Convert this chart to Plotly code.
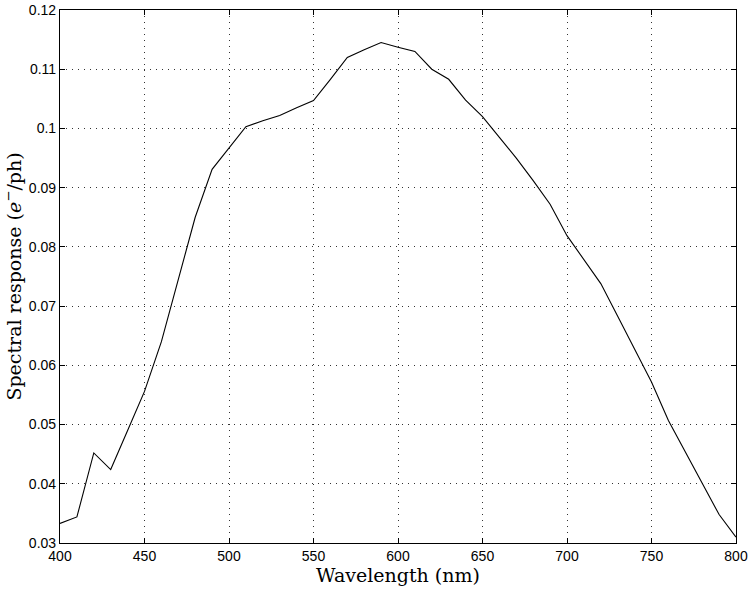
import plotly.graph_objects as go

wavelength_nm = [400, 410, 420, 430, 440, 450, 460, 470, 480, 490,
                 500, 510, 520, 530, 540, 550, 560, 570, 580, 590,
                 600, 610, 620, 630, 640, 650, 660, 670, 680, 690,
                 700, 710, 720, 730, 740, 750, 760, 770, 780, 790, 800]
response = [0.0333, 0.0344, 0.0452, 0.0424, 0.0490, 0.0556, 0.0640, 0.0744, 0.0850, 0.0931,
            0.0967, 0.1003, 0.1013, 0.1022, 0.1035, 0.1047, 0.1083, 0.1120, 0.1133, 0.1145,
            0.1137, 0.1130, 0.1100, 0.1083, 0.1048, 0.1020, 0.0985, 0.0950, 0.0912, 0.0872,
            0.0819, 0.0779, 0.0738, 0.0683, 0.0628, 0.0572, 0.0507, 0.0454, 0.0401, 0.0348, 0.0310]

x_ticks = [400, 450, 500, 550, 600, 650, 700, 750, 800]
y_ticks = [0.03, 0.04, 0.05, 0.06, 0.07, 0.08, 0.09, 0.1, 0.11, 0.12]
y_tick_text = ["0.03", "0.04", "0.05", "0.06", "0.07", "0.08", "0.09", "0.1", "0.11", "0.12"]

fig = go.Figure()
fig.add_trace(go.Scatter(x=wavelength_nm, y=response, mode="lines",
                         line=dict(color="black", width=1.1), showlegend=False))

tick_font = dict(family="Liberation Sans, Arial, sans-serif", size=14, color="black")
title_font = dict(family="DejaVu Serif, serif", size=19, color="black")

common = dict(showline=True, linecolor="black", linewidth=1.2, mirror="allticks",
              ticks="inside", ticklen=5, tickcolor="black",
              showgrid=True, gridcolor="#333", griddash="1px,5px", gridwidth=1,
              zeroline=False, tickfont=tick_font)

fig.update_xaxes(range=[400, 800], tickvals=x_ticks,
                 title=dict(text="Wavelength (nm)", font=title_font, standoff=5), **common)
fig.update_yaxes(range=[0.03, 0.12], tickvals=y_ticks, ticktext=y_tick_text,
                 title=dict(text="Spectral response (<i>e</i><sup>−</sup>/ph)", font=title_font, standoff=2),
                 **common)

fig.update_layout(width=749, height=592, paper_bgcolor="white", plot_bgcolor="white",
                  margin=dict(l=60, r=13, t=10, b=49, autoexpand=False))

# remove the page's default 8px body margin so the figure fills the window exactly
fig.write_html("out.html", config={"displayModeBar": False},
               post_script="document.body.style.margin='0px';")
